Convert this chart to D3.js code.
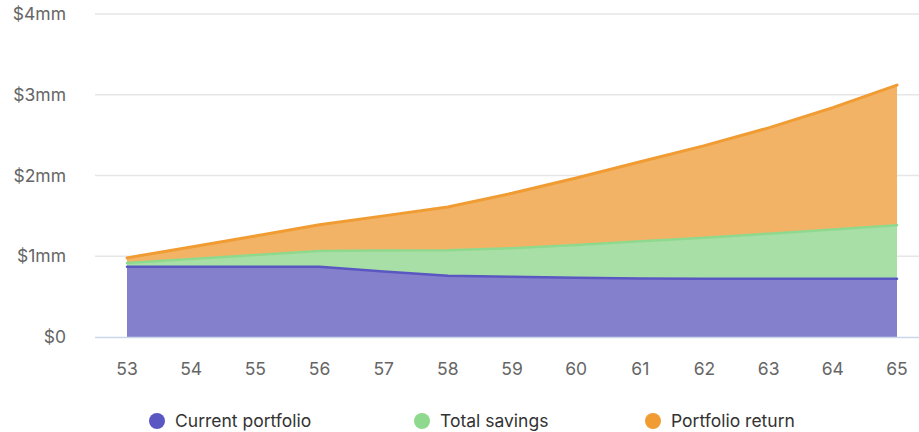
<!DOCTYPE html>
<html><head><meta charset="utf-8">
<script src="https://cdn.jsdelivr.net/npm/d3@7"></script>
<style>
html,body{margin:0;padding:0;background:#fff;}
svg{display:block;font-family:Inter,"Open Sans",sans-serif;}
</style></head>
<body><svg id="c" width="919" height="432"></svg>
<script>
const ages = [53,54,55,56,57,58,59,60,61,62,63,64,65];
const currentPortfolio = [0.87,0.87,0.87,0.87,0.81,0.76,0.745,0.735,0.725,0.72,0.72,0.72,0.72];
const totalSavings = [0.045,0.095,0.145,0.195,0.26,0.315,0.355,0.405,0.46,0.51,0.56,0.61,0.665];
const portfolioReturn = [0.065,0.15,0.235,0.325,0.43,0.535,0.68,0.83,0.985,1.14,1.31,1.51,1.735];
const yTicks = [0,1,2,3,4];
const yTickLabels = ["$0","$1mm","$2mm","$3mm","$4mm"];
const seriesNames = ["Current portfolio","Total savings","Portfolio return"];
const strokeColors = ["#5b57c2","#8fd98f","#f09c33"];
const fillColors = ["#8480cc","#a8dfa6","#f2b366"];

const svg = d3.select("#c");
const x = d3.scaleLinear().domain([53,65]).range([127,897]);
const y = d3.scaleLinear().domain([0,4]).range([337,14]);

svg.append("g").selectAll("line").data(yTicks.filter(d=>d>0)).join("line")
  .attr("x1",95).attr("x2",919).attr("y1",d=>y(d)).attr("y2",d=>y(d))
  .attr("stroke","#e6e6e6").attr("stroke-width",1.5);

svg.append("g").selectAll("text").data(yTicks).join("text")
  .attr("x",66).attr("y",d=>y(d)+6).attr("text-anchor","end")
  .attr("font-size",17.5).attr("fill","#666").text((d,i)=>yTickLabels[i]);

const rows = ages.map((a,i)=>({age:a, s0:currentPortfolio[i], s1:totalSavings[i], s2:portfolioReturn[i]}));
const stack = d3.stack().keys(["s0","s1","s2"])(rows);
const area = d3.area().x(d=>x(d.data.age)).y0(d=>y(d[0])).y1(d=>y(d[1]));
const line = d3.line().x(d=>x(d.data.age)).y(d=>y(d[1]));

const g = svg.append("g");
stack.forEach((s,i)=>{
  g.append("path").attr("d",area(s)).attr("fill",fillColors[i]);
});
stack.forEach((s,i)=>{
  g.append("path").attr("d",line(s)).attr("fill","none").attr("stroke",strokeColors[i])
   .attr("stroke-width", i===2?3:2.5).attr("stroke-linejoin","round").attr("stroke-linecap","round");
});

svg.append("line").attr("x1",95).attr("x2",919).attr("y1",y(0)+0.5).attr("y2",y(0)+0.5)
  .attr("stroke","#ccd6eb").attr("stroke-width",1.5);

svg.append("g").selectAll("text").data(ages).join("text")
  .attr("x",d=>x(d)).attr("y",375).attr("text-anchor","middle")
  .attr("font-size",17.5).attr("fill","#666").text(d=>d);

const legX = [157,422,653];
const leg = svg.append("g").selectAll("g").data(seriesNames).join("g")
  .attr("transform",(d,i)=>`translate(${legX[i]},421)`);
leg.append("circle").attr("r",8).attr("fill",(d,i)=>strokeColors[i]);
leg.append("text").attr("x",18).attr("y",6).attr("font-size",17.5).attr("fill","#333").text(d=>d);
</script></body></html>
